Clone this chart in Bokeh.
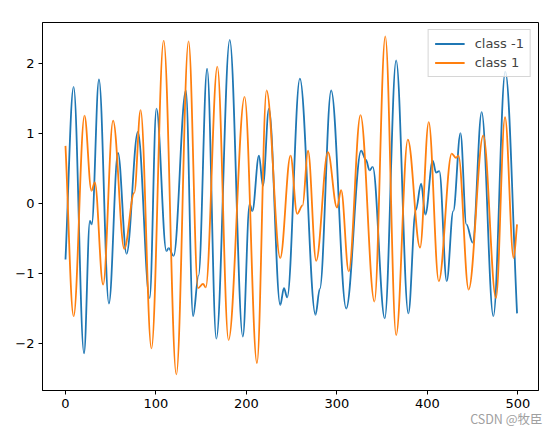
import numpy as np
from bokeh.plotting import figure
from bokeh.models import ColumnDataSource, Title, FixedTicker
from bokeh.embed import file_html
from bokeh.resources import INLINE

# ---- data (time index, value at key points) ----
neg_t = [0, 9, 20.5, 27, 29, 37, 48, 58, 67.5, 80, 93, 100.5, 111.5, 114, 119.5,
         133, 141, 147, 156.5, 166.7, 181.5, 196, 203.5, 206.5, 213.8, 218.2,
         224.8, 237.3, 241.4, 245, 259, 276.3, 281, 293.6, 310.2, 326.7, 332,
         336, 339.5, 352.8, 365.4, 378.9, 387, 393, 397.7, 405.8, 409.5, 413.1,
         421.3, 428.5, 436.5, 443, 450, 459.9, 472.8, 486, 499]
neg_v = [-0.80, 1.66, -2.14, -0.25, -0.30, 1.77, -1.43, 0.72, -0.72, 1.02, -1.35,
         1.35, -0.68, -0.64, -0.75, 1.61, -1.61, -1.03, 1.92, -1.93, 2.33, -1.90,
         -0.01, -0.11, 0.68, 0.25, 1.35, -1.45, -1.21, -1.34, 1.78, -1.59, -1.22,
         1.61, -1.50, 0.75, 0.62, 0.47, 0.52, -1.64, 2.04, -1.57, -0.10, 0.28,
         -0.16, 0.61, 0.44, 0.46, -1.11, -0.11, 1.00, -0.30, -0.56, 1.30, -1.61,
         1.88, -1.57]

pos_t = [0, 9, 21, 28.7, 32.4, 41.6, 52.6, 65, 76, 83, 95, 108.5, 122.5, 136,
         146.5, 152, 155, 167.8, 180.2, 197.9, 211.6, 222.2, 237.3, 248.7, 256,
         262, 268, 277, 290, 300, 304.6, 313, 326, 341.4, 353.4, 365.4, 378.3,
         391.8, 401.4, 412.5, 426.8, 431.6, 434.2, 445.5, 461.7, 475.7, 485.7,
         495.2, 499]
pos_v = [0.82, -1.61, 1.25, 0.18, 0.30, -1.16, 1.18, -0.65, 0.15, 1.33, -2.07,
         2.32, -2.44, 2.31, -1.21, -1.15, -1.20, 1.95, -1.95, 1.52, -2.28, 1.61,
         -0.78, 0.68, -0.15, -0.03, 0.75, -0.82, 0.73, -0.06, 0.19, -0.97, 1.26,
         -1.40, 2.38, -1.88, 0.91, -0.63, 1.16, -1.11, 0.71, 0.65, 0.68, -1.23,
         0.97, -1.35, 1.23, -0.78, -0.30]

series_names = ["class -1", "class 1"]
series_colors = ["#1f77b4", "#ff7f0e"]
x_ticks = [0, 100, 200, 300, 400, 500]
y_ticks = [-2, -1, 0, 1, 2]
y_tick_labels = ["\u22122", "\u22121", "0", "1", "2"]
watermark = "CSDN @\u7267\u81e3"


def segments(t, v, k=0.36):
    t = np.asarray(t, float)
    v = np.asarray(v, float)
    x0, x1 = t[:-1], t[1:]
    y0, y1 = v[:-1], v[1:]
    dx = x1 - x0
    cx0 = x0 + k * dx
    cx1 = x1 - k * dx
    cy0 = y0.copy()
    cy1 = y1.copy()
    cy0[0] = y0[0] + k * (y1[0] - y0[0])
    cy1[-1] = y1[-1] - k * (y1[-1] - y0[-1])
    return ColumnDataSource(dict(x0=x0, y0=y0, x1=x1, y1=y1,
                                 cx0=cx0, cy0=cy0, cx1=cx1, cy1=cy1))


p = figure(width=559, height=426, output_backend="svg", toolbar_location=None,
           x_range=(-25.4, 522.7), y_range=(-2.67, 2.58),
           min_border_left=42, min_border_right=21, min_border_top=22,
           min_border_bottom=36)

for t, v, name, col in [(neg_t, neg_v, series_names[0], series_colors[0]),
                        (pos_t, pos_v, series_names[1], series_colors[1])]:
    src = segments(t, v)
    p.bezier(x0="x0", y0="y0", x1="x1", y1="y1", cx0="cx0", cy0="cy0",
             cx1="cx1", cy1="cy1", source=src, line_color=col,
             line_width=1.8, legend_label=name)

p.grid.visible = False
p.outline_line_color = "black"
p.outline_line_width = 1
p.background_fill_color = "white"
p.border_fill_color = "white"

p.xaxis.ticker = FixedTicker(ticks=x_ticks)
p.yaxis.ticker = FixedTicker(ticks=y_ticks)
p.yaxis.major_label_overrides = {t: s for t, s in zip(y_ticks, y_tick_labels)}
for ax in (p.xaxis, p.yaxis):
    ax.axis_line_color = "black"
    ax.major_tick_line_color = "black"
    ax.minor_tick_line_color = None
    ax.major_tick_in = 0
    ax.major_tick_out = 4
    ax.major_label_standoff = 4
    ax.major_label_text_font = "DejaVu Sans"
    ax.major_label_text_font_size = "13px"
    ax.major_label_text_color = "black"

lg = p.legend[0]
lg.location = "top_right"
lg.margin = 7
lg.padding = 6
lg.spacing = 4
lg.glyph_width = 30
lg.glyph_height = 15
lg.label_height = 15
lg.label_standoff = 10
lg.label_text_font = "DejaVu Sans"
lg.label_text_font_size = "13px"
lg.border_line_color = "#cccccc"
lg.border_line_alpha = 0.8
lg.background_fill_alpha = 0.8

p.add_layout(Title(text=watermark, align="right", offset=-4, standoff=-8,
                   text_font="Noto Sans CJK SC", text_font_style="normal",
                   text_font_size="12.5px", text_color="#a0a0a0"), "below")

open("out.html", "w").write(file_html(p, INLINE))
